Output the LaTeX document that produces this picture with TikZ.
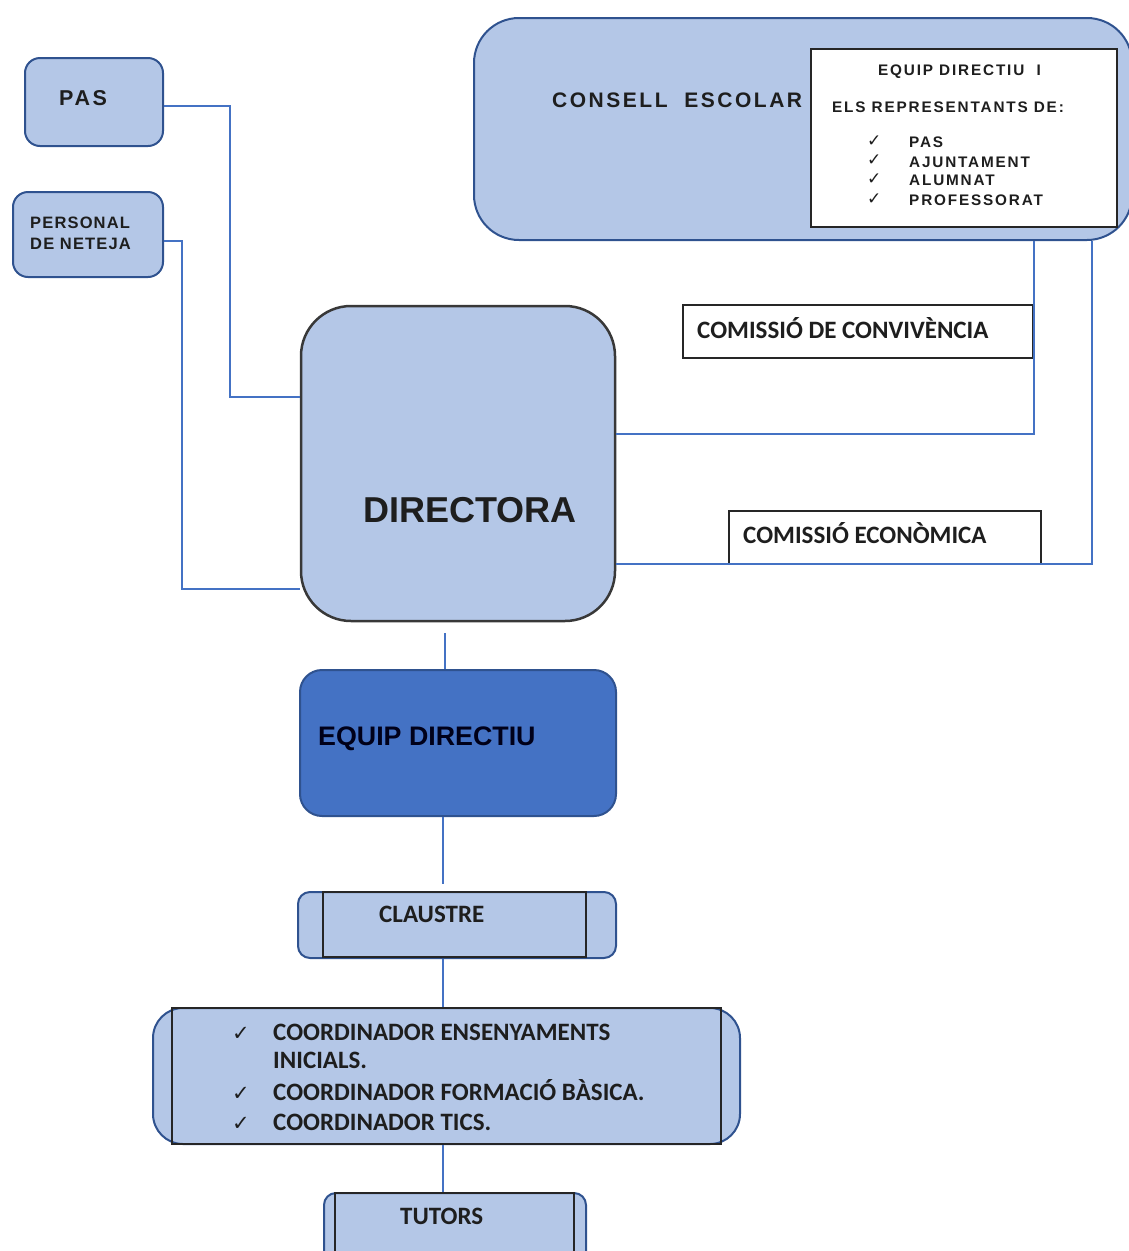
\documentclass[tikz,border=0pt]{standalone}
\usepackage{fontspec}
\setmainfont{Liberation Sans}
\newfontfamily\arialf{Liberation Sans}
\newfontfamily\arialsp[LetterSpace=12]{Liberation Sans}
\newfontfamily\arialsps[LetterSpace=7]{Liberation Sans}
\newfontfamily\calf{Carlito}
\newfontfamily\dvf{DejaVu Sans}
\definecolor{lb}{HTML}{B4C7E7}
\definecolor{mb}{HTML}{4472C4}
\definecolor{db}{HTML}{2F528F}
\definecolor{tx}{HTML}{1E1E1E}
\tikzset{
  sz/.style 2 args={minimum width=#1pt, minimum height=#2pt},
  bluebox/.style={draw=db, fill=lb, line width=2pt, rounded corners=#1, inner sep=0pt},
  darkbox/.style={draw=db, fill=mb, line width=2pt, rounded corners=#1, inner sep=0pt},
  whitebox/.style={draw=black!85, fill=white, line width=2pt, inner sep=0pt},
  inbox/.style={draw=black!85, line width=2pt, inner sep=0pt},
  conn/.style={draw=mb, line width=2pt},
  lbl/.style={anchor=base west, inner sep=0pt, text=tx},
  ar/.style={font=\arialsp\bfseries\fontsize{#1}{#1}\selectfont},
  cal/.style={font=\calf\bfseries\fontsize{#1}{#1}\selectfont},
  chk/.style={font=\dvf\fontsize{#1}{#1}\selectfont},
}
\begin{document}
\begin{tikzpicture}[x=1pt,y=-1pt]
\useasboundingbox (0,0) rectangle (1129,1251);
\clip (0,0) rectangle (1129,1251);

% PAS
\node[bluebox=15, sz={138}{88}] (pas) at (94,102) {};
\node[lbl, ar=21.5] (pas-t) at (59,105) {PAS};

% Personal de neteja
\node[bluebox=15, sz={150}{85}] (net) at (88,234.5) {};
\node[lbl, font=\arialsps\bfseries\fontsize{16.5}{16.5}\selectfont] (net-t1) at (30,228) {PERSONAL};
\node[lbl, font=\arialsps\bfseries\fontsize{16.5}{16.5}\selectfont] (net-t2) at (30,249) {DE NETEJA};

% Consell escolar
\node[bluebox=45, sz={658}{222}] (ce) at (803,129) {};
\node[lbl, ar=21] (ce-t) at (552,107) {CONSELL\ \ ESCOLAR};
\node[whitebox, sz={306}{178}] (ceb) at (964,138) {};
\node[lbl, ar=15.3] (ceb-t1) at (878,75) {EQUIP DIRECTIU\ \ I};
\node[lbl, ar=15.3] (ceb-t2) at (832,112) {ELS REPRESENTANTS DE:};
\node[lbl, chk=17] (k1) at (867,146) {✓};
\node[lbl, chk=17] (k2) at (867,165) {✓};
\node[lbl, chk=17] (k3) at (867,184) {✓};
\node[lbl, chk=17] (k4) at (867,204) {✓};
\node[lbl, ar=15.3] (i1) at (909,147) {PAS};
\node[lbl, ar=15.3] (i2) at (909,167) {AJUNTAMENT};
\node[lbl, ar=15.3] (i3) at (909,185) {ALUMNAT};
\node[lbl, ar=15.3] (i4) at (909,205) {PROFESSORAT};

% Directora
\node[draw=black!78, fill=lb, line width=2.5pt, rounded corners=50, inner sep=0pt, sz={314}{315}] (dir) at (458,463.5) {};
\node[lbl, font=\arialf\bfseries\fontsize{36}{36}\selectfont] (dir-t) at (363,522) {DIRECTORA};

% Comissions
\node[whitebox, sz={350}{53}] (conv) at (858,331.5) {};
\node[lbl, cal=25] (conv-t) at (697,338) {COMISSIÓ DE CONVIVÈNCIA};
\node[whitebox, sz={312}{53}] (eco) at (885,537.5) {};
\node[lbl, cal=25] (eco-t) at (743,543) {COMISSIÓ ECONÒMICA};

% Equip directiu
\node[darkbox=22, sz={316}{146}] (eq) at (458,743) {};
\node[lbl, font=\arialf\bfseries\fontsize{26.8}{26.8}\selectfont, text=black!90!blue] (eq-t) at (318,745) {EQUIP DIRECTIU};

% Claustre
\node[bluebox=12, sz={318}{66}] (cl) at (457,925) {};
\node[inbox, sz={263}{65}] (cl-in) at (454.5,924.5) {};
\node[lbl, cal=25] (cl-t) at (379,922) {CLAUSTRE};

% Coordinadors
\node[bluebox=30, sz={587}{136}] (co) at (446.5,1076) {};
\node[inbox, sz={549}{136}] (co-in) at (446.5,1076) {};
\node[lbl, chk=21] (c1) at (232,1040) {✓};
\node[lbl, chk=21] (c2) at (232,1100) {✓};
\node[lbl, chk=21] (c3) at (232,1130) {✓};
\node[lbl, cal=25] (co-t1) at (273,1040) {COORDINADOR ENSENYAMENTS};
\node[lbl, cal=25] (co-t2) at (273,1068) {INICIALS.};
\node[lbl, cal=25] (co-t3) at (273,1100) {COORDINADOR FORMACIÓ BÀSICA.};
\node[lbl, cal=25] (co-t4) at (273,1130) {COORDINADOR TICS.};

% Tutors
\node[bluebox=12, sz={262}{87}] (tu) at (455,1236.5) {};
\node[inbox, sz={239}{87}] (tu-in) at (454.5,1236.5) {};
\node[lbl, cal=25] (tu-t) at (400,1224) {TUTORS};

% Connectors
\draw[conn] (pas.east |- 0,106) -- (230,106) -- (230,397) -- (dir.west |- 0,397);
\draw[conn] (net.east |- 0,241) -- (182,241) -- (182,589) -- (dir.west |- 0,589);
\draw[conn] (ce.south -| 1034,0) -- (1034,434) -- (dir.east |- 0,434);
\draw[conn] (ce.south -| 1092,0) -- (1092,564) -- (dir.east |- 0,564);
\draw[conn, shorten <=11pt] (dir.south -| 445,0) -- (eq.north -| 445,0);
\draw[conn, shorten >=7pt] (eq.south -| 443,0) -- (cl.north -| 443,0);
\draw[conn] (cl.south -| 443,0) -- (co.north -| 443,0);
\draw[conn] (co.south -| 443,0) -- (tu.north -| 443,0);
\end{tikzpicture}
\end{document}
